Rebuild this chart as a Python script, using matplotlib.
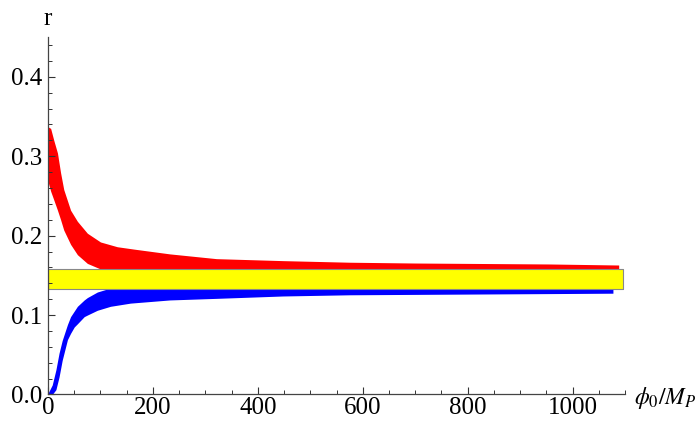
import numpy as np
import matplotlib.pyplot as plt
from matplotlib.ticker import MultipleLocator

# 数据
red_x = [0, 5, 11, 18, 24, 30, 43, 56, 75, 100, 132, 164, 232, 321, 448, 575, 700, 956, 1088]
red_hi = [0.337, 0.335, 0.320, 0.304, 0.279, 0.258, 0.232, 0.218, 0.203, 0.192, 0.186, 0.183,
          0.177, 0.171, 0.1685, 0.1665, 0.1655, 0.1643, 0.163]
red_lo = [0.268, 0.256, 0.245, 0.232, 0.220, 0.207, 0.189, 0.176, 0.165, 0.158, 0.155, 0.154,
          0.153, 0.152, 0.151, 0.150, 0.150, 0.150, 0.150]

blue_x = [0, 8, 15, 21, 27, 37, 43, 50, 56, 69, 75, 94, 119, 157, 232, 321, 448, 575, 700, 956, 1077]
blue_hi = [0.0015, 0.012, 0.031, 0.052, 0.068, 0.088, 0.098, 0.105, 0.111, 0.119, 0.122, 0.129,
           0.134, 0.137, 0.139, 0.140, 0.140, 0.140, 0.140, 0.140, 0.140]
blue_lo = [0.0, 0.0, 0.006, 0.022, 0.043, 0.069, 0.077, 0.085, 0.089, 0.098, 0.100, 0.106,
           0.111, 0.115, 0.119, 0.121, 0.124, 0.1255, 0.126, 0.127, 0.1275]

band_x = [0, 1097]
band_lo = [0.1325, 0.1325]
band_hi = [0.1577, 0.1577]

plt.rcParams['font.family'] = ['Liberation Serif', 'DejaVu Serif']
plt.rcParams['mathtext.fontset'] = 'stix'

fig = plt.figure(figsize=(6.98, 4.21), dpi=100)
ax = fig.add_axes([0.0688, 0.063, 0.8266, 0.849])

ax.fill_between(red_x, red_lo, red_hi, color='#ff0000', lw=0)
ax.fill_between(blue_x, blue_lo, blue_hi, color='#0000ff', lw=0)
ax.fill_between(band_x, band_lo, band_hi, facecolor='#ffff00', edgecolor='#888888', lw=0.8)

ax.set_xlim(0, 1100)
ax.set_ylim(0, 0.45)
ax.xaxis.set_major_locator(MultipleLocator(200))
ax.xaxis.set_minor_locator(MultipleLocator(50))
ax.yaxis.set_major_locator(MultipleLocator(0.1))
ax.yaxis.set_minor_locator(MultipleLocator(0.02))
ax.yaxis.set_major_formatter(plt.FuncFormatter(lambda v, p: f'{v:.1f}'))

for s in ['top', 'right']:
    ax.spines[s].set_visible(False)
for s in ['left', 'bottom']:
    ax.spines[s].set_color('#444444')
    ax.spines[s].set_linewidth(0.9)

ax.tick_params(which='both', direction='in', color='#333333', labelsize=18)
ax.tick_params(axis='x', pad=2)
ax.tick_params(axis='y', pad=4)
ax.tick_params(which='major', length=5, width=0.8)
ax.tick_params(which='minor', length=3, width=0.7)

ax.text(0, 0.465, 'r', ha='center', va='baseline', fontsize=18, clip_on=False)
ax.text(1118, -0.004, r'$\phi_0/M_P$', ha='left', va='center', fontsize=17, clip_on=False)

plt.savefig('out.png', dpi=100)
